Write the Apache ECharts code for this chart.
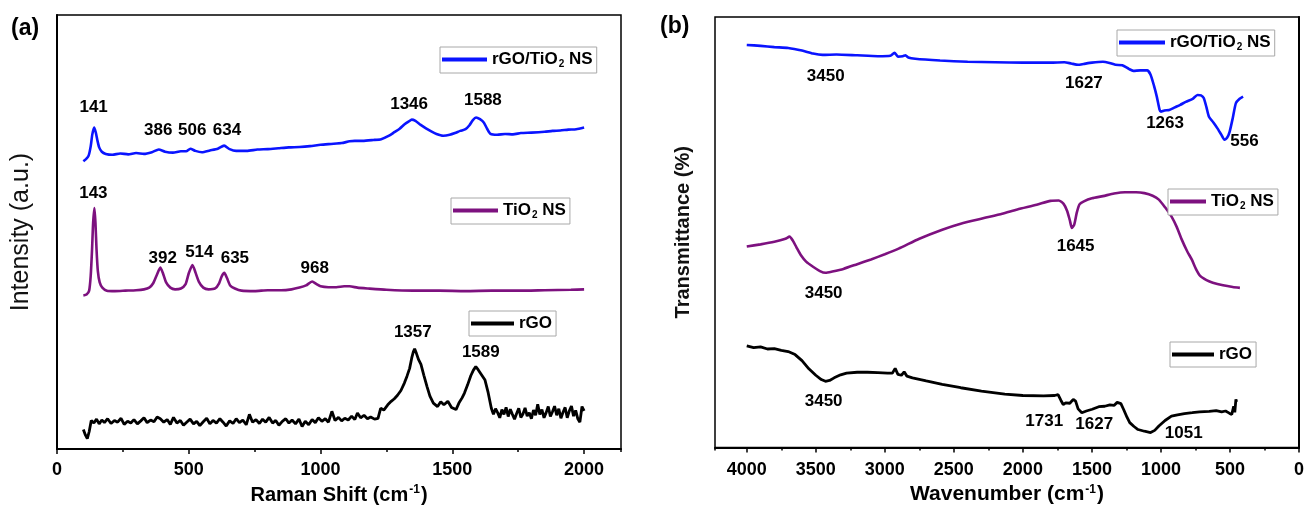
<!DOCTYPE html>
<html>
<head>
<meta charset="utf-8">
<script src="https://cdn.jsdelivr.net/npm/echarts@6/dist/echarts.min.js"></script>
<style>
  html, body { margin: 0; background: #fff; }
  #chart { width: 1307px; height: 510px; }
</style>
</head>
<body>
<div id="chart"></div>
<script>
// (a) Raman: [Raman shift cm-1, intensity a.u.]
const ramanComposite = [
  [100, 66.3], [110, 66.8], [120, 67.6], [128, 69.8], [134, 72.5], [141, 74.1], [147, 73.0], [153, 71.2],
  [160, 69.5], [170, 68.5], [185, 68.0], [210, 67.8], [240, 68.1], [270, 67.9], [300, 68.2], [330, 68.0],
  [360, 68.4], [386, 69.0], [410, 68.5], [440, 68.3], [470, 68.6], [490, 68.6], [506, 69.2], [525, 68.7],
  [550, 68.4], [580, 68.8], [610, 69.2], [634, 69.9], [655, 69.1], [680, 68.7], [720, 68.7], [760, 69.0],
  [800, 69.1], [840, 69.3], [880, 69.5], [920, 69.6], [960, 69.8], [1000, 70.1], [1040, 70.3], [1080, 70.5],
  [1110, 70.9], [1130, 71.0], [1160, 71.0], [1200, 71.2], [1230, 71.4], [1260, 72.2], [1280, 73.0], [1300, 73.8],
  [1320, 74.9], [1335, 75.5], [1346, 75.9], [1360, 75.6], [1380, 74.7], [1400, 73.9], [1420, 73.2], [1440, 72.6],
  [1465, 72.2], [1490, 72.4], [1510, 72.8], [1530, 73.3], [1550, 73.7], [1565, 74.6], [1578, 75.8], [1590, 76.4],
  [1605, 76.0], [1620, 75.2], [1632, 73.8], [1645, 72.6], [1670, 72.4], [1700, 72.6], [1730, 72.5], [1760, 72.8],
  [1800, 72.9], [1850, 73.1], [1880, 73.3], [1910, 73.4], [1940, 73.6], [1970, 73.7], [2000, 74.1]
];
const ramanTiO2 = [
  [100, 35.4], [112, 35.6], [122, 36.5], [128, 40.0], [133, 46.0], [137, 52.0], [142, 55.5], [146, 52.0],
  [150, 46.0], [155, 41.0], [162, 38.4], [172, 37.2], [189, 36.5], [220, 36.4], [260, 36.5], [300, 36.6],
  [330, 36.8], [350, 37.2], [365, 38.2], [378, 40.0], [392, 41.8], [402, 40.5], [414, 38.4], [430, 37.2],
  [448, 36.8], [470, 37.0], [488, 38.0], [500, 40.5], [514, 42.4], [526, 40.6], [538, 38.6], [555, 37.2],
  [575, 36.8], [600, 37.0], [615, 38.2], [625, 39.8], [635, 40.6], [645, 39.4], [657, 37.7], [675, 37.0],
  [700, 36.5], [750, 36.4], [800, 36.6], [850, 36.6], [890, 36.8], [920, 37.2], [945, 37.7], [968, 38.6],
  [985, 38.0], [1000, 37.5], [1030, 37.3], [1060, 37.3], [1090, 37.5], [1110, 37.5], [1140, 37.2], [1180, 37.0],
  [1250, 36.7], [1350, 36.5], [1450, 36.5], [1550, 36.4], [1650, 36.5], [1750, 36.5], [1850, 36.6], [1950, 36.7],
  [2000, 36.8]
];
const ramanRGO = [
  [100, 4.5], [108, 3.2], [115, 2.4], [122, 4.0], [130, 6.6], [140, 6.0], [150, 6.9], [160, 5.8], [170, 6.7],
  [180, 6.1], [192, 7.0], [205, 5.9], [218, 6.6], [230, 6.2], [243, 7.1], [255, 5.7], [268, 6.4], [280, 6.0],
  [292, 6.8], [305, 5.8], [318, 6.5], [330, 7.2], [342, 6.1], [355, 6.7], [368, 6.3], [380, 7.4], [392, 7.0],
  [405, 6.2], [418, 6.8], [430, 5.7], [442, 7.3], [455, 6.0], [468, 6.6], [480, 5.5], [492, 6.2], [505, 6.9],
  [518, 5.8], [530, 6.4], [542, 5.4], [555, 6.3], [568, 7.1], [580, 5.8], [592, 6.6], [605, 6.0], [618, 7.0],
  [630, 6.2], [642, 5.3], [655, 6.5], [668, 5.9], [680, 7.0], [692, 6.1], [705, 6.7], [718, 5.6], [730, 8.0],
  [742, 6.2], [755, 6.8], [768, 5.9], [780, 6.9], [792, 6.2], [805, 7.3], [818, 6.0], [830, 6.6], [842, 5.5],
  [855, 6.4], [868, 7.0], [880, 6.0], [892, 6.7], [905, 5.8], [918, 6.9], [930, 5.2], [942, 6.4], [955, 5.6],
  [968, 6.8], [980, 6.1], [992, 7.2], [1005, 6.4], [1018, 7.0], [1030, 6.2], [1043, 8.7], [1055, 6.6], [1068, 7.3],
  [1080, 6.5], [1092, 7.1], [1105, 6.7], [1118, 7.6], [1130, 6.8], [1140, 8.3], [1152, 7.2], [1165, 7.8], [1178, 7.0],
  [1190, 7.4], [1205, 6.9], [1218, 7.1], [1228, 9.4], [1240, 9.0], [1255, 10.2], [1268, 11.0], [1280, 11.6],
  [1292, 12.4], [1305, 13.5], [1318, 15.2], [1328, 16.8], [1338, 18.6], [1346, 21.0], [1352, 22.4], [1357, 23.1],
  [1364, 22.0], [1372, 20.6], [1381, 19.5], [1392, 17.0], [1404, 14.4], [1415, 12.2], [1428, 10.6], [1444, 9.8],
  [1456, 10.9], [1468, 10.2], [1483, 11.0], [1497, 9.6], [1514, 9.1], [1525, 10.6], [1537, 11.8], [1546, 12.9],
  [1558, 14.8], [1570, 16.9], [1580, 18.2], [1589, 19.0], [1598, 18.3], [1610, 17.2], [1624, 15.9], [1636, 13.0],
  [1648, 9.4], [1656, 8.0], [1664, 9.3], [1672, 8.4], [1680, 7.2], [1688, 9.1], [1696, 8.0], [1704, 9.6],
  [1712, 7.5], [1720, 9.2], [1728, 8.0], [1736, 6.9], [1744, 8.2], [1752, 9.4], [1760, 7.3], [1768, 8.1],
  [1776, 9.5], [1784, 7.6], [1792, 8.4], [1800, 7.0], [1808, 9.0], [1816, 7.8], [1824, 10.3], [1832, 8.0],
  [1840, 9.1], [1848, 7.2], [1856, 8.4], [1864, 9.8], [1872, 7.5], [1880, 8.6], [1888, 9.9], [1896, 7.8],
  [1904, 9.3], [1912, 7.1], [1920, 8.5], [1928, 9.6], [1936, 7.2], [1944, 8.8], [1952, 9.9], [1960, 7.6],
  [1968, 8.9], [1976, 7.0], [1984, 6.2], [1992, 9.8], [2000, 8.8]
];

// (b) FTIR: [wavenumber cm-1, transmittance %]
const ftirComposite = [
  [4000, 93.5], [3900, 93.3], [3800, 93.0], [3700, 92.8], [3600, 92.2], [3520, 91.5], [3450, 91.2], [3350, 91.3],
  [3200, 91.1], [3050, 90.9], [2960, 91.0], [2930, 91.7], [2905, 90.8], [2870, 90.9], [2850, 91.1], [2830, 90.6],
  [2780, 90.3], [2600, 89.9], [2400, 89.6], [2200, 89.5], [2000, 89.4], [1800, 89.4], [1700, 89.5], [1650, 89.2],
  [1600, 88.9], [1560, 89.1], [1500, 89.4], [1420, 89.6], [1380, 89.4], [1330, 88.9], [1280, 88.8], [1230, 87.9],
  [1200, 87.5], [1150, 87.6], [1100, 87.6], [1075, 86.6], [1050, 84.0], [1030, 81.5], [1010, 78.5], [1000, 78.0],
  [975, 78.3], [940, 78.4], [900, 79.0], [860, 79.6], [820, 80.3], [770, 81.0], [735, 81.9], [710, 81.8],
  [690, 81.2], [670, 79.0], [653, 76.9], [620, 75.5], [592, 74.2], [565, 72.8], [540, 71.5], [520, 72.0],
  [502, 73.4], [480, 76.5], [457, 80.0], [430, 81.0], [405, 81.5]
];
const ftirTiO2 = [
  [4000, 46.7], [3900, 47.2], [3800, 47.8], [3720, 48.5], [3690, 49.0], [3665, 48.0], [3640, 46.5], [3610, 44.8],
  [3570, 43.2], [3520, 42.0], [3470, 41.0], [3430, 40.6], [3380, 40.9], [3300, 41.5], [3200, 42.6], [3100, 43.7],
  [3000, 44.9], [2900, 46.2], [2750, 48.5], [2584, 50.6], [2450, 52.0], [2282, 53.3], [2150, 54.3], [2040, 55.3],
  [1900, 56.4], [1800, 57.3], [1740, 57.4], [1705, 56.6], [1680, 55.0], [1660, 52.8], [1645, 51.0], [1628, 51.8],
  [1610, 54.5], [1590, 56.5], [1558, 57.2], [1500, 57.9], [1420, 58.4], [1340, 59.0], [1260, 59.3], [1180, 59.3],
  [1120, 59.1], [1060, 58.5], [1015, 57.6], [970, 55.8], [924, 53.7], [885, 51.2], [849, 48.3], [810, 45.6],
  [777, 43.7], [745, 41.4], [714, 39.8], [670, 38.9], [624, 38.3], [550, 37.7], [480, 37.3], [428, 37.1]
];
const ftirRGO = [
  [4000, 23.6], [3950, 23.2], [3900, 23.4], [3850, 22.9], [3800, 23.0], [3750, 22.6], [3700, 22.3], [3650, 21.6],
  [3600, 20.2], [3550, 18.3], [3500, 16.8], [3460, 15.8], [3430, 15.4], [3400, 15.6], [3367, 16.2], [3320, 16.9],
  [3277, 17.3], [3200, 17.5], [3126, 17.5], [3050, 17.4], [2980, 17.3], [2945, 17.3], [2925, 18.4], [2905, 17.0],
  [2880, 16.8], [2860, 17.6], [2840, 16.6], [2800, 16.2], [2700, 15.5], [2584, 14.7], [2450, 13.9], [2300, 13.1],
  [2131, 12.4], [2000, 12.1], [1850, 12.0], [1770, 12.1], [1745, 12.3], [1725, 11.0], [1708, 10.0], [1690, 10.4],
  [1660, 10.3], [1635, 11.2], [1618, 10.8], [1600, 9.0], [1573, 8.1], [1540, 8.5], [1498, 8.9], [1450, 9.5],
  [1407, 9.6], [1370, 9.9], [1340, 9.8], [1317, 10.5], [1290, 10.2], [1271, 8.9], [1245, 7.0], [1226, 5.8],
  [1195, 4.9], [1166, 4.2], [1120, 3.8], [1075, 3.5], [1045, 4.0], [1015, 5.0], [970, 6.3], [924, 7.3],
  [880, 7.6], [830, 7.9], [773, 8.1], [720, 8.3], [650, 8.4], [600, 8.6], [560, 8.3], [532, 8.5],
  [505, 8.0], [487, 7.7], [473, 9.6], [465, 8.2], [457, 11.2], [452, 10.6]
];

// peak labels: [x, y, text]
const ramanPeaks = [
  [139, 78.7, '141'], [384, 73.4, '386'], [513, 73.4, '506'], [645, 73.4, '634'],
  [1336, 79.5, '1346'], [1616, 80.4, '1588'],
  [138, 58.9, '143'], [401, 43.9, '392'], [540, 45.4, '514'], [675, 43.9, '635'], [978, 41.6, '968'],
  [1350, 26.9, '1357'], [1608, 22.4, '1589']
];
const ftirPeaks = [
  [3428, 86.3, '3450'], [1558, 84.6, '1627'], [970, 75.4, '1263'], [395, 71.1, '556'],
  [1618, 46.7, '1645'], [3443, 35.9, '3450'],
  [3443, 10.8, '3450'], [1845, 6.2, '1731'], [1483, 5.4, '1627'], [835, 3.3, '1051']
];

const seriesNames = ['rGO/TiO2 NS', 'TiO2 NS', 'rGO'];
const seriesColors = ['#0a14ff', '#7d117f', '#000000'];

const sans = "'Liberation Sans', Arial, sans-serif";

let chart = echarts.init(document.getElementById('chart'));

function legendBox(name, left, top, iconW) {
  return {
    data: [name],
    left: left,
    top: top,
    orient: 'horizontal',
    icon: 'rect',
    itemWidth: iconW,
    itemHeight: 4,
    padding: [4, 4, 4, 2],
    borderColor: '#a8a8a8',
    borderWidth: 1,
    backgroundColor: '#fff',
    selectedMode: false,
    formatter: n => n.replace('TiO2', 'TiO{sub|2}'),
    textStyle: {
      color: '#000', fontSize: 17, fontWeight: 'bold', fontFamily: sans,
      rich: {
        sub: { fontSize: 10, fontWeight: 'bold', fontFamily: sans, verticalAlign: 'bottom', padding: [9, 0, 0, 1] }
      }
    }
  };
}

// main axis: labels and long ticks every 500
function xAxisCfg(grid, max, inverse, name, gap, margin, nameSize) {
  return {
    gridIndex: grid, type: 'value', min: 0, max: max, interval: 500, inverse: inverse, position: 'bottom',
    axisLine: { show: true, onZero: false, lineStyle: { color: '#000', width: 2 } },
    axisTick: { show: true, length: 5, lineStyle: { color: '#000', width: 1.5 } },
    splitLine: { show: false },
    axisLabel: {
      margin: margin, color: '#000', fontSize: 18, fontWeight: 'bold', fontFamily: sans,
      showMaxLabel: false, formatter: v => String(v)
    },
    name: name, nameLocation: 'middle', nameGap: gap,
    nameTextStyle: {
      color: '#000', fontSize: nameSize, fontWeight: 'bold', fontFamily: sans,
      rich: { sup: { fontSize: 12, fontWeight: 'bold', fontFamily: sans, verticalAlign: 'top', padding: [0, 1, 10, 1] } }
    }
  };
}

// helper axis: short ticks every 250 only
function minorAxisCfg(grid, max, inverse) {
  return {
    gridIndex: grid, type: 'value', min: 0, max: max, interval: 250, inverse: inverse, position: 'bottom',
    axisLine: { show: false, onZero: false },
    axisTick: { show: true, length: 3, lineStyle: { color: '#000', width: 1.5 } },
    axisLabel: { show: false },
    splitLine: { show: false }
  };
}

function yAxisCfg(grid, name, gap, size, weight) {
  return {
    gridIndex: grid, type: 'value', min: 0, max: 100,
    axisLine: { show: true, lineStyle: { color: '#000', width: 2 } },
    axisTick: { show: false }, axisLabel: { show: false }, splitLine: { show: false },
    name: name, nameLocation: 'middle', nameGap: gap, nameRotate: 90,
    nameTextStyle: { color: '#111', fontSize: size, fontWeight: weight, fontFamily: sans }
  };
}

function lineSeries(i, data, ax) {
  return {
    name: seriesNames[i], type: 'line', data: data,
    xAxisIndex: ax * 2, yAxisIndex: ax,
    showSymbol: false, symbol: 'none', smooth: i === 2 ? false : 0.2,
    lineStyle: { color: seriesColors[i], width: i === 2 ? 2.8 : 2.6 },
    itemStyle: { color: seriesColors[i] },
    silent: true
  };
}

function peakSeries(data, ax) {
  return {
    type: 'scatter', data: data, xAxisIndex: ax * 2, yAxisIndex: ax,
    symbolSize: 0, silent: true, z: 5,
    itemStyle: { opacity: 1 },
    label: {
      show: true, position: 'inside', formatter: p => p.data[2],
      color: '#000', opacity: 1, textBorderWidth: 0,
      fontSize: 17, fontWeight: 'bold', fontFamily: sans
    }
  };
}

var option = {
  backgroundColor: '#fff',
  animation: false,
  title: [
    { text: '(a)', left: 6, top: 12, textStyle: { color: '#000', fontSize: 23, fontWeight: 'bold', fontFamily: sans } },
    { text: '(b)', left: 655, top: 10, textStyle: { color: '#000', fontSize: 23, fontWeight: 'bold', fontFamily: sans } }
  ],
  grid: [
    { left: 57, top: 15, width: 564, height: 438, show: true, borderColor: '#000', borderWidth: 1.5 },
    { left: 715, top: 17, width: 586, height: 431, show: true, borderColor: '#000', borderWidth: 1.5 }
  ],
  legend: [
    legendBox(seriesNames[0], 440, 47, 45),
    legendBox(seriesNames[1], 451, 198, 45),
    legendBox(seriesNames[2], 469, 311, 43),
    legendBox(seriesNames[0], 1117, 30, 46),
    legendBox(seriesNames[1], 1168, 189, 36),
    legendBox(seriesNames[2], 1170, 342, 42)
  ],
  xAxis: [
    xAxisCfg(0, 2140, false, 'Raman Shift (cm{sup|-1})', 32, 12, 20),
    minorAxisCfg(0, 2140, false),
    xAxisCfg(1, 4230, true, 'Wavenumber (cm{sup|-1})', 31, 13, 21),
    minorAxisCfg(1, 4230, true)
  ],
  yAxis: [
    yAxisCfg(0, 'Intensity (a.u.)', 23, 25, 'normal'),
    yAxisCfg(1, 'Transmittance (%)', 22, 20, 'bold')
  ],
  series: [
    lineSeries(0, ramanComposite, 0),
    lineSeries(1, ramanTiO2, 0),
    lineSeries(2, ramanRGO, 0),
    lineSeries(0, ftirComposite, 1),
    lineSeries(1, ftirTiO2, 1),
    lineSeries(2, ftirRGO, 1),
    peakSeries(ramanPeaks, 0),
    peakSeries(ftirPeaks, 1)
  ]
};

chart.setOption(option);
window.addEventListener('resize', () => {
  chart.resize();
});
</script>
</body>
</html>
